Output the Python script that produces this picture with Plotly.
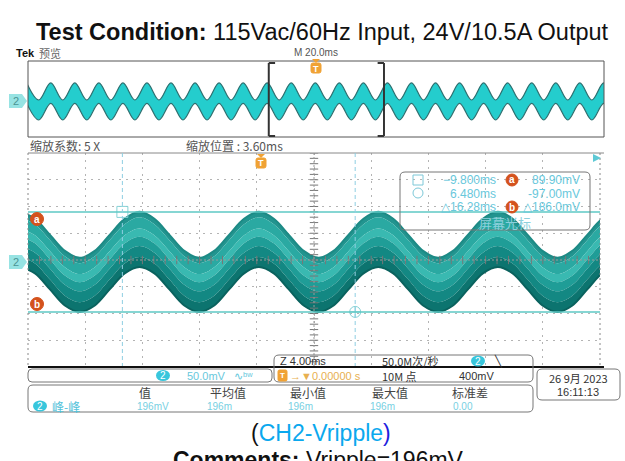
import plotly.graph_objects as go

W, H = 625, 461


def px(x):
    return x / W


def py(y):
    return 1 - y / H


# ---------------- data ----------------
# zoomed trace (CH2, 50 mV/div, 4 ms/div): envelope samples, ms / mV
main_t = [-16.95, -15.91, -14.86, -13.82, -12.78, -11.73, -10.69, -9.64, -8.60, -7.56,
          -6.51, -5.47, -4.43, -3.38, -2.34, -1.29, -0.25, 0.79, 1.84, 2.88,
          3.93, 4.97, 6.01, 7.06, 8.10, 9.14, 10.19, 11.23, 12.28, 13.32,
          14.36, 15.41, 16.45, 17.49, 18.54, 19.58, 20.63, 21.67, 22.71, 23.76, 24.80]
main_upper = [90, 77, 47, 17, 4, 17, 47, 77, 90, 77, 47, 17, 4, 17, 47, 77,
              90, 77, 47, 17, 4, 17, 47, 77, 90, 77, 47, 17, 4, 17, 47, 77,
              90, 77, 47, 17, 4, 17, 47, 77, 90]
main_lower = [-13, -25, -55, -85, -97, -85, -55, -25, -13, -25, -55, -85, -97, -85, -55, -25,
              -13, -25, -55, -85, -97, -85, -55, -25, -13, -25, -55, -85, -97, -85, -55, -25,
              -13, -25, -55, -85, -97, -85, -55, -25, -13]

# overview trace (20 ms/div): peak / trough samples
ov_t = [-100.45, -96.28, -92.10, -87.93, -83.75, -79.58, -75.40, -71.23, -67.05, -62.88,
        -58.70, -54.53, -50.35, -46.18, -42.00, -37.83, -33.65, -29.48, -25.30, -21.13,
        -16.95, -12.78, -8.60, -4.43, -0.25, 3.93, 8.10, 12.28, 16.45, 20.63,
        24.80, 28.98, 33.15, 37.33, 41.50, 45.68, 49.85, 54.03, 58.20, 62.38,
        66.55, 70.73, 74.90, 79.08, 83.25, 87.43, 91.60, 95.78, 99.95, 104.13]
ov_upper = [90, 4, 90, 4, 90, 4, 90, 4, 90, 4, 90, 4, 90, 4, 90, 4, 90, 4, 90, 4,
            90, 4, 90, 4, 90, 4, 90, 4, 90, 4, 90, 4, 90, 4, 90, 4, 90, 4, 90, 4,
            90, 4, 90, 4, 90, 4, 90, 4, 90, 4]
ov_lower = [-13, -97, -13, -97, -13, -97, -13, -97, -13, -97, -13, -97, -13, -97, -13, -97,
            -13, -97, -13, -97, -13, -97, -13, -97, -13, -97, -13, -97, -13, -97, -13, -97,
            -13, -97, -13, -97, -13, -97, -13, -97, -13, -97, -13, -97, -13, -97, -13, -97,
            -13, -97]

cursor_t = [-9.8, 6.48]        # ms
cursor_v = [89.9, -97.0]       # mV
zoom_window = [-16.4, 23.6]    # ms (zoom position 3.60 ms, 5X)

cursor_readout = [["−9.800ms", "89.90mV"], ["6.480ms", "-97.00mV"], ["△16.28ms", "△186.0mV"]]
meas_headers = ["值", "平均值", "最小值", "最大值", "标准差"]
meas_values = ["196mV", "196m", "196m", "196m", "0.00"]

CJK = "Noto Sans CJK SC"
SANS = "Liberation Sans, Arial"
CYAN_TXT = "#68c8dc"

fig = go.Figure()

# ---------------- overview waveform ----------------
fig.add_trace(go.Scatter(x=ov_t, y=ov_upper, mode="lines", line=dict(color="#2d6f6f", width=1.2, shape="spline"),
                         xaxis="x", yaxis="y", hoverinfo="skip", showlegend=False))
fig.add_trace(go.Scatter(x=ov_t, y=ov_lower, mode="lines", line=dict(color="#2d6f6f", width=1.2, shape="spline"),
                         fill="tonexty", fillcolor="#24cdcd",
                         xaxis="x", yaxis="y", hoverinfo="skip", showlegend=False))

# ---------------- main waveform (layered band) ----------------
fracs = [0.0, 0.1, 0.3, 0.45, 0.62, 0.82, 1.0]
cols = ["#22948f", "#2aa9a2", "#39b9b1", "#1f9d97", "#138883", "#0c746f"]
for i, f in enumerate(fracs):
    yb = [u + f * (l - u) for u, l in zip(main_upper, main_lower)]
    tr = dict(x=main_t, y=yb, mode="lines", line=dict(width=0, shape="spline"),
              xaxis="x2", yaxis="y2", hoverinfo="skip", showlegend=False)
    if i > 0:
        tr["fill"] = "tonexty"
        tr["fillcolor"] = cols[i - 1]
    fig.add_trace(go.Scatter(**tr))
fig.add_trace(go.Scatter(x=main_t, y=main_upper, mode="lines", line=dict(color="#1d8a85", width=2, shape="spline"),
                         xaxis="x2", yaxis="y2", hoverinfo="skip", showlegend=False))
fig.add_trace(go.Scatter(x=main_t, y=main_lower, mode="lines", line=dict(color="#0a625e", width=2, shape="spline"),
                         xaxis="x2", yaxis="y2", hoverinfo="skip", showlegend=False))

# graticule tick marks on the centre cross
ctr_t = (zoom_window[0] + zoom_window[1]) / 2
ys = [-200 + 10 * k for k in range(41)]
xs = [zoom_window[0] + 0.8 * k for k in range(51)]
fig.add_trace(go.Scatter(x=[ctr_t] * len(ys), y=ys, mode="markers",
                         marker=dict(symbol="line-ew", size=6, color="#777", line=dict(color="#777", width=1)),
                         xaxis="x2", yaxis="y2", hoverinfo="skip", showlegend=False))
fig.add_trace(go.Scatter(x=xs, y=[0] * len(xs), mode="markers",
                         marker=dict(symbol="line-ns", size=6, color="#777", line=dict(color="#777", width=1)),
                         xaxis="x2", yaxis="y2", hoverinfo="skip", showlegend=False))

# cursor markers
fig.add_trace(go.Scatter(x=[cursor_t[0]], y=[cursor_v[0]], mode="markers",
                         marker=dict(symbol="square-open", size=11, color="#86d2d6",
                                     line=dict(color="#86d2d6", width=1)),
                         xaxis="x2", yaxis="y2", hoverinfo="skip", showlegend=False))
fig.add_trace(go.Scatter(x=[cursor_t[1]], y=[cursor_v[1]], mode="markers",
                         marker=dict(symbol="circle-cross-open", size=11, color="#86d2d6",
                                     line=dict(color="#86d2d6", width=1)),
                         xaxis="x2", yaxis="y2", hoverinfo="skip", showlegend=False))

shapes = []
ann = []


def rrect(x0, y0, x1, y1, r, color="#777", width=1, fill=None):
    p = (f"M {px(x0 + r)},{py(y0)} L {px(x1 - r)},{py(y0)} Q {px(x1)},{py(y0)} {px(x1)},{py(y0 + r)} "
         f"L {px(x1)},{py(y1 - r)} Q {px(x1)},{py(y1)} {px(x1 - r)},{py(y1)} "
         f"L {px(x0 + r)},{py(y1)} Q {px(x0)},{py(y1)} {px(x0)},{py(y1 - r)} "
         f"L {px(x0)},{py(y0 + r)} Q {px(x0)},{py(y0)} {px(x0 + r)},{py(y0)} Z")
    d = dict(type="path", xref="paper", yref="paper", path=p, line=dict(color=color, width=width))
    if fill:
        d["fillcolor"] = fill
    shapes.append(d)


def text(x, y, s, size=11, color="#333", family=SANS, xanchor="left", yanchor="middle"):
    ann.append(dict(x=px(x), y=py(y), xref="paper", yref="paper", text=s, showarrow=False,
                    xanchor=xanchor, yanchor=yanchor, font=dict(size=size, color=color, family=family)))


def circ(cx, cy, r, fill, line=None):
    shapes.append(dict(type="circle", xref="paper", yref="paper", x0=px(cx - r), x1=px(cx + r),
                       y0=py(cy + r), y1=py(cy - r), fillcolor=fill,
                       line=dict(color=line or fill, width=1)))


def pill(cx, cy, label="2"):
    shapes.append(dict(type="circle", xref="paper", yref="paper", x0=px(cx - 7), x1=px(cx + 7),
                       y0=py(cy + 5.5), y1=py(cy - 5.5), fillcolor="#38c6dc", line=dict(width=0)))
    text(cx, cy, label, size=10, color="white", xanchor="center")


def chtag(cy):
    shapes.append(dict(type="path", xref="paper", yref="paper",
                       path=f"M {px(9)},{py(cy - 7)} L {px(22)},{py(cy - 7)} L {px(27)},{py(cy)} "
                            f"L {px(22)},{py(cy + 7)} L {px(9)},{py(cy + 7)} Z",
                       fillcolor="#97e3e3", line=dict(width=0)))
    text(16, cy, "2", size=11, color="#4a9494", xanchor="center")


def tmark(cx, ytop):
    shapes.append(dict(type="path", xref="paper", yref="paper",
                       path=f"M {px(cx - 4)},{py(ytop)} L {px(cx + 4)},{py(ytop)} L {px(cx)},{py(ytop + 4)} Z",
                       fillcolor="#f0a234", line=dict(width=0)))
    rrect(cx - 5, ytop + 4, cx + 5, ytop + 14, 2, color="#f0a234", fill="#f0a234")
    text(cx, ytop + 9.5, "<b>T</b>", size=9, color="white", xanchor="center")


# ---- overview frame + zoom bracket ----
shapes.append(dict(type="rect", xref="paper", yref="paper", x0=px(28), x1=px(604), y0=py(137), y1=py(61),
                   line=dict(color="#555", width=1)))
for xe, d in [(zoom_window[0], 2.2), (zoom_window[1], -2.2)]:
    shapes.append(dict(type="line", xref="x", yref="paper", x0=xe, x1=xe, y0=py(136), y1=py(63),
                       line=dict(color="#333", width=2)))
    for yy in (63, 136):
        shapes.append(dict(type="line", xref="x", yref="paper", x0=xe, x1=xe + d, y0=py(yy), y1=py(yy),
                           line=dict(color="#333", width=2)))

# ---- main graticule frame ----
shapes.append(dict(type="line", xref="paper", yref="paper", x0=px(28), x1=px(604), y0=py(153), y1=py(153),
                   line=dict(color="#888", width=1)))
for xe in (28, 600):
    shapes.append(dict(type="line", xref="paper", yref="paper", x0=px(xe), x1=px(xe), y0=py(153), y1=py(367),
                       line=dict(color="#888", width=1, dash="2px,3px")))
shapes.append(dict(type="line", xref="x2", yref="y2", x0=ctr_t, x1=ctr_t, y0=-200, y1=200,
                   line=dict(color="#999", width=1, dash="2px,2px")))
shapes.append(dict(type="line", xref="x2", yref="y2", x0=zoom_window[0], x1=zoom_window[1], y0=0, y1=0,
                   line=dict(color="#999", width=1, dash="2px,2px")))

# cursors
for v in cursor_v:
    shapes.append(dict(type="line", xref="x2", yref="y2", x0=zoom_window[0], x1=zoom_window[1], y0=v, y1=v,
                       line=dict(color="#5ec9c5", width=1.5)))
for t in cursor_t:
    shapes.append(dict(type="line", xref="x2", yref="y2", x0=t, x1=t, y0=-200, y1=200,
                       line=dict(color="#8fcfe2", width=1, dash="4px,3px")))

# bottom black bar
shapes.append(dict(type="line", xref="paper", yref="paper", x0=px(28), x1=px(604), y0=py(367), y1=py(367),
                   line=dict(color="#111", width=2)))

# ---- cursor readout box ----
rrect(400, 172, 590, 230, 5, color="#777")
shapes.append(dict(type="rect", xref="paper", yref="paper", x0=px(413), x1=px(423), y0=py(185), y1=py(175),
                   line=dict(color="#7cc8d8", width=1)))
circ(418, 193, 5, "rgba(0,0,0,0)", line="#7cc8d8")
for i, (a, b) in enumerate(cursor_readout):
    yy = 180 + 13.5 * i
    text(498, yy, a, size=12, color=CYAN_TXT, xanchor="right")
    text(582, yy, b, size=12, color=CYAN_TXT, xanchor="right")
circ(512, 180, 6, "#d4521d")
text(512, 180, "<b>a</b>", size=10, color="white", xanchor="center")
circ(512, 207, 6, "#d4521d")
text(512, 207, "<b>b</b>", size=10, color="white", xanchor="center")
text(505, 222, "屏幕光标", size=13, color="#8ccfdc", family=CJK, xanchor="center")

# a / b markers on the left
circ(37, 219, 6.5, "#d4521d")
text(37, 219, "<b>a</b>", size=10, color="white", xanchor="center")
circ(37, 304, 6.5, "#d4521d")
text(37, 304, "<b>b</b>", size=10, color="white", xanchor="center")

chtag(101)
chtag(262)
tmark(316, 59)
tmark(261, 154)
shapes.append(dict(type="path", xref="paper", yref="paper",
                   path=f"M {px(593)},{py(154)} L {px(601)},{py(158)} L {px(593)},{py(162)} Z",
                   fillcolor="#5ec9d5", line=dict(width=0)))

# ---- status boxes ----
rrect(28, 369, 272, 382, 4)
pill(163, 375.5)
text(185, 375.5, "50.0mV", size=11, color=CYAN_TXT)
text(232, 375.5, "∿ᵇʷ", size=11, color=CYAN_TXT)

rrect(274, 355, 533, 382, 5)
text(278, 361, "Z 4.00ms", size=11, color="#333")
text(380, 361, "50.0M次/秒", size=11, color="#333", family=CJK)
pill(478, 361)
text(492, 361, "╲", size=11, color="#333")
rrect(278, 370, 287, 381, 1.5, color="#f0a234", fill="#f0a234")
text(282.5, 375.5, "<b>T</b>", size=8, color="white", xanchor="center")
text(288, 375.5, "→▼0.00000 s", size=11, color="#e8b050")
text(380, 375.5, "10M 点", size=11, color="#333", family=CJK)
text(457, 375.5, "400mV", size=11, color="#333")

rrect(537, 369, 620, 400, 5)
text(578, 378, "26 9月 2023", size=11, color="#333", family=CJK, xanchor="center")
text(578, 392, "16:11:13", size=11, color="#333", xanchor="center")

rrect(28, 385, 533, 412, 5)
header_x = [145, 228, 308, 390, 470]
value_x = [153, 219, 300, 382, 463]
for hx, hs in zip(header_x, meas_headers):
    text(hx, 392, hs, size=12, color="#444", family=CJK, xanchor="center")
for vx, vs in zip(value_x, meas_values):
    text(vx, 406.5, vs, size=10, color="#78d0e2", xanchor="center")
pill(40, 406)
text(50, 406, "峰-峰", size=12, color="#52c2da", family=CJK)

# ---- labels ----
text(322, 32, "<b>Test Condition:</b> 115Vac/60Hz Input, 24V/10.5A Output", size=23.5, color="#111",
     xanchor="center")
text(14, 53, "<b>Tek</b>", size=11, color="#111")
text(37, 53, "预览", size=11, color="#666", family=CJK)
text(292, 53, "M 20.0ms", size=10, color="#555")
text(28, 146, "缩放系数: 5 X", size=12, color="#555", family=CJK)
text(184, 146, "缩放位置 : 3.60ms", size=12, color="#555", family=CJK)
text(321, 433, "(<span style='color:#0aa8ee'>CH2-Vripple</span><span style='color:#2020dd'>)</span>",
     size=23, color="#111", xanchor="center")
text(318, 460, "<b>Comments:</b> Vripple=196mV", size=23, color="#111", xanchor="center")

fig.update_layout(
    width=W, height=H, margin=dict(l=0, r=0, t=0, b=0),
    paper_bgcolor="white", plot_bgcolor="white", showlegend=False,
    xaxis=dict(domain=[px(28), px(604)], range=[-100, 100], visible=False, fixedrange=True),
    yaxis=dict(domain=[py(137), py(61)], range=[-183, 201], visible=False, fixedrange=True),
    xaxis2=dict(domain=[px(28), px(600)], range=zoom_window, anchor="y2", showgrid=True,
                tick0=ctr_t, dtick=4, gridcolor="#b4b4b4", griddash="2px,5px", gridwidth=1,
                showticklabels=False, zeroline=False, ticks="", showline=False),
    yaxis2=dict(domain=[py(367), py(153)], range=[-200, 200], anchor="x2", showgrid=True,
                tick0=0, dtick=50, gridcolor="#b4b4b4", griddash="2px,5px", gridwidth=1,
                showticklabels=False, zeroline=False, ticks="", showline=False),
    shapes=shapes, annotations=ann,
)

fig.write_html("out.html")
